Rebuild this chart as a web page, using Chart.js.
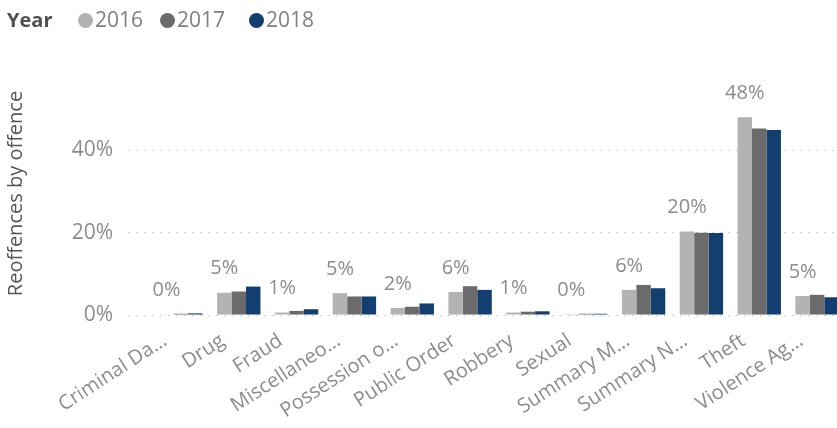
<!DOCTYPE html>
<html>
<head>
<meta charset="utf-8">
<script src="https://cdn.jsdelivr.net/npm/chart.js@4/dist/chart.umd.min.js"></script>
<style>
  html, body { margin: 0; padding: 0; background: #fff; overflow: hidden; }
  #wrap { position: relative; width: 850px; height: 428px; }
  #legend {
    position: absolute; left: 0; top: 0; width: 400px; height: 40px;
    font-family: "Open Sans", sans-serif; font-size: 21px; color: #808080;
  }
  #legend span { position: absolute; line-height: 1; }
  #legend .title { left: 7px; top: 10px; font-weight: bold; color: #505050; font-size: 20px; }
  #legend .dot { width: 15px; height: 15px; border-radius: 50%; top: 13px; }
  #legend .text { top: 9px; }
</style>
</head>
<body>
<div id="wrap">
  <div id="legend"><span class="title">Year</span></div>
  <canvas id="reoffenceChart" width="850" height="428"></canvas>
</div>
<script>
const offences = ['Criminal Da…', 'Drug', 'Fraud', 'Miscellaneo…', 'Possession o…', 'Public Order',
  'Robbery', 'Sexual', 'Summary M…', 'Summary N…', 'Theft', 'Violence Ag…'];

const years = ['2016', '2017', '2018'];
const yearColors = ['#b3b3b3', '#6b6b6b', '#123f6f'];

// share of reoffences per offence type, in percent
const share2016 = [0.1, 5.4, 0.6, 5.3, 1.7, 5.6, 0.6, 0.2, 6.1, 20.3, 48.0, 4.6];
const share2017 = [0.3, 5.7, 1.0, 4.5, 2.0, 7.0, 0.8, 0.3, 7.3, 20.0, 45.3, 4.9];
const share2018 = [0.4, 6.9, 1.4, 4.5, 2.8, 6.1, 0.9, 0.3, 6.5, 19.9, 44.9, 4.3];

const yTicks = [0, 20, 40];

const fontFamily = '"Open Sans", sans-serif';

// legend row: "Year" then a dot + label per year
const legendEl = document.getElementById('legend');
const legendX = [78, 160, 249];
years.forEach((y, i) => {
  const dot = document.createElement('span');
  dot.className = 'dot';
  dot.style.left = legendX[i] + 'px';
  dot.style.background = yearColors[i];
  const txt = document.createElement('span');
  txt.className = 'text';
  txt.style.left = (legendX[i] + 17) + 'px';
  txt.textContent = y;
  legendEl.appendChild(dot);
  legendEl.appendChild(txt);
});

// value labels above the 2016 bars
const barLabels = {
  id: 'barLabels',
  afterDatasetsDraw(chart) {
    const ctx = chart.ctx;
    const meta = chart.getDatasetMeta(0);
    ctx.save();
    ctx.font = '20px ' + fontFamily;
    ctx.fillStyle = '#8c8c8c';
    ctx.textAlign = 'center';
    ctx.textBaseline = 'bottom';
    meta.data.forEach((bar, i) => {
      const v = chart.data.datasets[0].data[i];
      ctx.fillText(Math.round(v) + '%', bar.x, bar.y - 14);
    });
    ctx.restore();
  }
};

const ctx = document.getElementById('reoffenceChart').getContext('2d');
new Chart(ctx, {
  type: 'bar',
  data: {
    labels: offences,
    datasets: [share2016, share2017, share2018].map((d, i) => ({
      label: years[i],
      data: d,
      backgroundColor: yearColors[i],
      categoryPercentage: 0.75,
      barPercentage: 1.0,
      borderWidth: 0
    }))
  },
  options: {
    responsive: false,
    animation: false,
    layout: { padding: { top: 72, right: 4, left: 0, bottom: 0 } },
    plugins: {
      legend: { display: false },
      tooltip: { enabled: false }
    },
    scales: {
      x: {
        grid: { display: false },
        border: { display: false },
        ticks: {
          color: '#8c8c8c',
          font: { family: fontFamily, size: 20 },
          minRotation: 33,
          maxRotation: 33,
          labelOffset: -16,
          padding: 6,
          autoSkip: false
        },
        afterFit(axis) { axis.height = 113; }
      },
      y: {
        min: 0,
        max: 59,
        border: { display: false, dash: [2, 6] },
        afterBuildTicks(axis) { axis.ticks = yTicks.map(v => ({ value: v })); },
        afterFit(axis) { axis.width = 152; },
        grid: {
          color: '#d0d0d0',
          tickLength: 24,
          tickColor: '#d0d0d0',
          tickBorderDash: [2, 6]
        },
        ticks: {
          color: '#8c8c8c',
          font: { family: fontFamily, size: 21 },
          padding: 15,
          callback: v => v + '%'
        },
        title: {
          display: true,
          text: 'Reoffences by offence',
          color: '#555',
          font: { family: fontFamily, size: 20 },
          padding: { top: 4, bottom: 0 }
        }
      }
    }
  },
  plugins: [barLabels]
});
</script>
</body>
</html>
